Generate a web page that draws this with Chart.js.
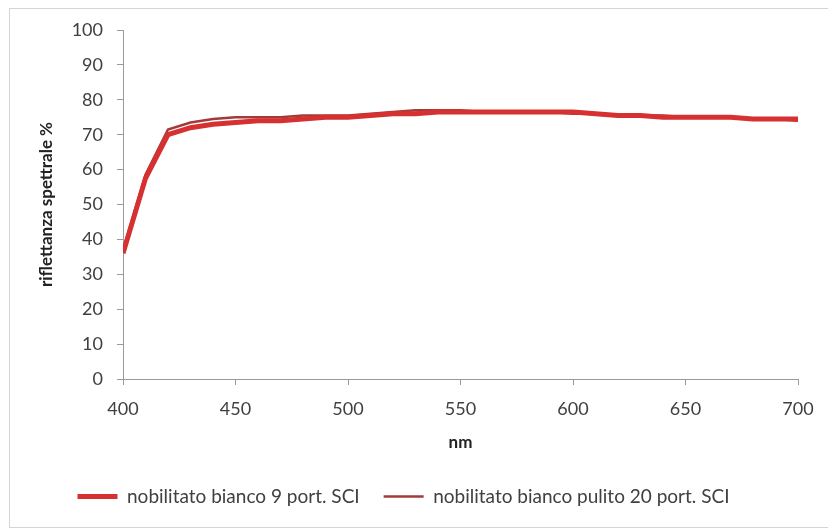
<!DOCTYPE html>
<html>
<head>
<meta charset="utf-8">
<script src="https://cdn.jsdelivr.net/npm/chart.js@4/dist/chart.umd.min.js"></script>
<style>
  html, body { margin: 0; padding: 0; background: #fff; }
  #wrap { width: 828px; height: 531px; position: relative; }
</style>
</head>
<body>
<div id="wrap"><canvas id="spettro"></canvas></div>
<script>
// wavelengths (nm) and the two reflectance curves (%)
const wavelengths = [400, 410, 420, 430, 440, 450, 460, 470, 480, 490, 500, 510, 520, 530, 540, 550,
                     560, 570, 580, 590, 600, 610, 620, 630, 640, 650, 660, 670, 680, 690, 700];
const bianco9 = [36, 57.5, 70, 72, 73, 73.5, 74, 74, 74.5, 75, 75, 75.5, 76, 76, 76.5, 76.5,
                 76.5, 76.5, 76.5, 76.5, 76.5, 76, 75.5, 75.5, 75, 75, 75, 75, 74.5, 74.5, 74.5];
const biancoPulito20 = [37, 58.5, 71.5, 73.5, 74.5, 75, 75, 75, 75.5, 75.5, 75.5, 76, 76.5, 77, 77, 77,
                        76.5, 76.5, 76.5, 76.5, 76, 76, 75.5, 75.5, 75.5, 75, 75, 75, 74.5, 74.5, 74];
const seriesNames = ["nobilitato bianco 9 port. SCI", "nobilitato bianco pulito 20 port. SCI"];
const xTicks = [400, 450, 500, 550, 600, 650, 700];
const yTicks = [0, 10, 20, 30, 40, 50, 60, 70, 80, 90, 100];

function toPoints(values) {
  return wavelengths.map((w, i) => ({ x: w, y: values[i] }));
}

// outer frame like the Excel chart area
const framePlugin = {
  id: "frame",
  beforeDraw(chart) {
    const c = chart.ctx;
    c.save();
    c.fillStyle = "#fff";
    c.fillRect(0, 0, chart.width, chart.height);
    c.strokeStyle = "#d4d4d4";
    c.lineWidth = 1;
    c.strokeRect(9.5, 8.5, 840, 519);
    c.restore();
  }
};

const FONT = "Lato, 'Open Sans', sans-serif";
const axisColor = "#9a9a9a";

new Chart(document.getElementById("spettro").getContext("2d"), {
  type: "line",
  data: {
    datasets: [
      {
        label: seriesNames[0],
        data: toPoints(bianco9),
        borderColor: "#d63030",
        backgroundColor: "#d63030",
        borderWidth: 5,
        pointRadius: 0,
        tension: 0
      },
      {
        label: seriesNames[1],
        data: toPoints(biancoPulito20),
        borderColor: "#a33a3a",
        backgroundColor: "#a33a3a",
        borderWidth: 2.5,
        pointRadius: 0,
        tension: 0
      }
    ]
  },
  options: {
    responsive: true,
    maintainAspectRatio: false,
    animation: false,
    layout: { padding: { left: 9, right: 30, top: 30, bottom: 15 } },
    plugins: {
      tooltip: { enabled: false },
      legend: {
        position: "bottom",
        labels: {
          usePointStyle: true,
          pointStyle: "line",
          pointStyleWidth: 40,
          boxHeight: 19,
          padding: 24,
          color: "#404040",
          font: { family: FONT, size: 19 }
        }
      }
    },
    scales: {
      x: {
        type: "linear",
        min: 400,
        max: 700,
        afterBuildTicks: s => { s.ticks = xTicks.map(v => ({ value: v })); },
        afterFit: s => { s.height = 84; },
        border: { display: true, color: axisColor, width: 1 },
        grid: { display: true, drawOnChartArea: false, drawTicks: true, tickLength: 6, color: axisColor },
        ticks: { color: "#404040", padding: 13, maxRotation: 0, font: { family: FONT, size: 18 } },
        title: {
          display: true,
          text: "nm",
          color: "#222",
          padding: { top: 4, bottom: 10 },
          font: { family: FONT, size: 17, weight: "bold" }
        }
      },
      y: {
        min: 0,
        max: 100,
        afterBuildTicks: s => { s.ticks = yTicks.map(v => ({ value: v })); },
        afterFit: s => { s.width = 114; },
        border: { display: true, color: axisColor, width: 1 },
        grid: { display: true, drawOnChartArea: false, drawTicks: true, tickLength: 6, color: axisColor },
        ticks: { color: "#404040", padding: 14, font: { family: FONT, size: 18 } },
        title: {
          display: true,
          text: "riflettanza spettrale %",
          color: "#222",
          padding: { top: 27, bottom: 0 },
          font: { family: FONT, size: 17, weight: "bold" }
        }
      }
    }
  },
  plugins: [framePlugin]
});
</script>
</body>
</html>
